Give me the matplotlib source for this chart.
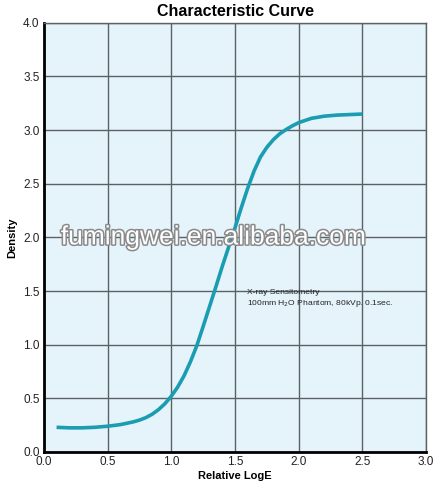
import numpy as np
import matplotlib.pyplot as plt
import matplotlib.patheffects as pe

plt.rcParams['font.family'] = ['Liberation Sans', 'DejaVu Sans']

# characteristic curve
log_e = [0.1, 0.2, 0.3, 0.4, 0.5, 0.6, 0.7, 0.75, 0.8, 0.85, 0.9, 0.95, 1.0,
         1.05, 1.1, 1.15, 1.2, 1.25, 1.3, 1.35, 1.4, 1.45, 1.5, 1.55, 1.6,
         1.65, 1.7, 1.75, 1.8, 1.85, 1.9, 1.95, 2.0, 2.1, 2.2, 2.3, 2.4, 2.5]
density = [0.23, 0.225, 0.225, 0.23, 0.24, 0.255, 0.28, 0.297, 0.32, 0.352,
           0.395, 0.45, 0.52, 0.605, 0.71, 0.84, 0.99, 1.17, 1.355, 1.54, 1.73,
           1.91, 2.09, 2.28, 2.46, 2.62, 2.75, 2.84, 2.91, 2.965, 3.005, 3.04,
           3.07, 3.11, 3.13, 3.14, 3.145, 3.15]

x_ticks = [0.0, 0.5, 1.0, 1.5, 2.0, 2.5, 3.0]
y_ticks = [0.0, 0.5, 1.0, 1.5, 2.0, 2.5, 3.0, 3.5, 4.0]

fig = plt.figure(figsize=(4.34, 4.86), dpi=100)
ax = fig.add_axes([0.101, 0.070, 0.881, 0.883])
ax.set_facecolor('#e5f4fa')

ax.plot(log_e, density, color='#1a9cb2', lw=2.6, solid_joinstyle='round',
        solid_capstyle='butt', zorder=3)

ax.set_xlim(0, 3)
ax.set_ylim(0, 4)
ax.set_xticks(x_ticks)
ax.set_yticks(y_ticks)
ax.set_xticklabels(['%.1f' % v for v in x_ticks])
ax.set_yticklabels(['%.1f' % v for v in y_ticks])
ax.tick_params(length=0, labelsize=8.5, colors='#222222', pad=3)
ax.grid(True, color='#5a6266', lw=1.0)

for side in ['top', 'right']:
    ax.spines[side].set_color('#5a6266')
    ax.spines[side].set_linewidth(1.0)
for side in ['left', 'bottom']:
    ax.spines[side].set_color('black')
    ax.spines[side].set_linewidth(2.0)

ax.set_xlabel('Relative LogE', fontsize=8, fontweight='bold', labelpad=2)
ax.set_ylabel('Density', fontsize=8, fontweight='bold', labelpad=4)
ax.set_title('Characteristic Curve', fontsize=11.5, fontweight='bold', pad=5)

ax.text(1.595, 1.43, 'X-ray Sensitometry\n100mm H$_2$O Phantom, 80kVp. 0.1sec.',
        fontsize=6.1, va='center', ha='left', linespacing=1.3, color='#222222')

# watermark over the plot
wm = ax.text(1.33, 2.0, 'fumingwei.en.alibaba.com', fontsize=19, ha='center',
             va='center', color='white', zorder=5)
wm.set_path_effects([pe.Stroke(linewidth=2.2, foreground='#8a8a8a'), pe.Normal()])

fig.savefig('out.png', dpi=100)
